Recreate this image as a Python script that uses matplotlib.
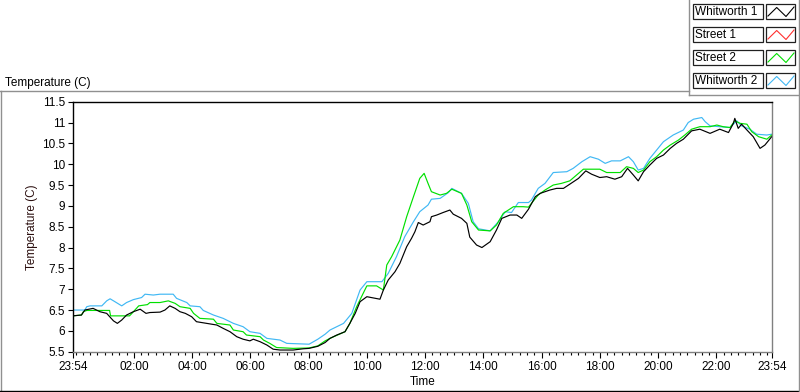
import matplotlib as mpl
import matplotlib.pyplot as plt
from matplotlib.lines import Line2D
from matplotlib.patches import Rectangle

# time in minutes after 23:54 (start of record), temperature in C
w1_t = [0, 18, 25, 42, 56, 70, 84, 92, 101, 111, 125, 139, 151, 159, 180, 190, 200, 211,
        221, 232, 245, 255, 276, 297, 310, 324, 338, 351, 365, 372, 386, 400, 413, 427,
        454, 475, 487, 505, 520, 530, 544, 561, 571, 582, 592, 606, 633, 640, 650, 664,
        674, 688, 698, 705, 712, 722, 736, 739, 750, 763, 777, 784, 801, 812, 818, 832,
        843, 860, 873, 884, 901, 915, 925, 939, 953, 963, 983, 997, 1011, 1024, 1042,
        1057, 1069, 1086, 1100, 1117, 1131, 1143, 1155, 1165, 1176, 1189, 1203, 1217,
        1231, 1244, 1258, 1275, 1292, 1313, 1333, 1351, 1361, 1364, 1371, 1378, 1389,
        1402, 1416, 1426, 1440]
w1_v = [6.36, 6.38, 6.50, 6.54, 6.46, 6.42, 6.24, 6.18, 6.26, 6.38, 6.46, 6.52, 6.42, 6.44,
        6.45, 6.50, 6.60, 6.54, 6.46, 6.42, 6.34, 6.22, 6.18, 6.14, 6.06, 5.98, 5.86, 5.80,
        5.76, 5.80, 5.74, 5.66, 5.56, 5.54, 5.54, 5.57, 5.58, 5.63, 5.72, 5.82, 5.90, 5.98,
        6.18, 6.42, 6.70, 6.82, 6.76, 6.98, 7.22, 7.42, 7.62, 8.02, 8.22, 8.38, 8.60, 8.54,
        8.62, 8.74, 8.78, 8.84, 8.90, 8.80, 8.70, 8.58, 8.25, 8.06, 8.00, 8.14, 8.42, 8.70,
        8.78, 8.78, 8.70, 8.92, 9.22, 9.30, 9.38, 9.42, 9.42, 9.52, 9.66, 9.84, 9.76, 9.68,
        9.70, 9.64, 9.70, 9.90, 9.74, 9.60, 9.82, 9.98, 10.14, 10.22, 10.38, 10.50, 10.60,
        10.80, 10.84, 10.74, 10.84, 10.76, 10.98, 11.10, 10.86, 10.96, 10.82, 10.66, 10.38,
        10.46, 10.66]

# Street 1 has no samples on this chart
s1_t = []
s1_v = []

s2_t = [0, 18, 22, 29, 76, 78, 117, 122, 136, 154, 159, 180, 197, 211, 221, 242, 249, 262,
        290, 297, 324, 331, 351, 358, 386, 393, 406, 420, 454, 487, 505, 520, 530, 561, 571,
        585, 595, 606, 626, 640, 647, 657, 674, 688, 702, 715, 724, 732, 739, 757, 770, 781,
        801, 812, 822, 836, 860, 873, 887, 908, 928, 939, 945, 959, 973, 990, 1007, 1024,
        1042, 1052, 1086, 1100, 1128, 1141, 1155, 1165, 1176, 1189, 1203, 1217, 1231, 1248,
        1261, 1275, 1292, 1313, 1327, 1340, 1354, 1364, 1375, 1389, 1399, 1413, 1430, 1440]
s2_v = [6.36, 6.38, 6.46, 6.49, 6.49, 6.36, 6.36, 6.42, 6.60, 6.63, 6.68, 6.68, 6.72, 6.66,
        6.58, 6.54, 6.42, 6.30, 6.28, 6.18, 6.14, 6.02, 5.98, 5.90, 5.86, 5.78, 5.70, 5.60,
        5.58, 5.59, 5.64, 5.76, 5.82, 5.98, 6.18, 6.58, 6.82, 7.08, 7.08, 6.98, 7.58, 7.78,
        8.18, 8.74, 9.22, 9.66, 9.78, 9.54, 9.34, 9.26, 9.30, 9.40, 9.30, 9.02, 8.62, 8.42,
        8.40, 8.54, 8.82, 8.98, 8.98, 8.97, 9.06, 9.26, 9.38, 9.50, 9.54, 9.60, 9.78, 9.88,
        9.88, 9.80, 9.80, 9.94, 9.90, 9.80, 9.86, 10.06, 10.18, 10.34, 10.46, 10.58, 10.70,
        10.84, 10.90, 10.90, 10.94, 10.90, 10.88, 11.04, 10.98, 10.96, 10.78, 10.66, 10.60,
        10.70]

w2_t = [0, 25, 29, 36, 60, 70, 77, 87, 101, 111, 125, 142, 149, 166, 180, 207, 214, 235,
        242, 262, 269, 290, 310, 331, 351, 365, 386, 400, 427, 441, 487, 505, 520, 530, 558,
        575, 592, 606, 637, 650, 667, 684, 702, 715, 732, 739, 757, 774, 781, 801, 815, 825,
        836, 860, 877, 891, 904, 918, 939, 945, 959, 973, 990, 1018, 1031, 1049, 1066, 1083,
        1097, 1110, 1128, 1145, 1155, 1165, 1176, 1189, 1203, 1217, 1237, 1258, 1268, 1279,
        1296, 1303, 1313, 1333, 1354, 1368, 1378, 1395, 1409, 1430, 1440]
w2_v = [6.50, 6.50, 6.58, 6.60, 6.60, 6.72, 6.77, 6.70, 6.60, 6.68, 6.75, 6.80, 6.88, 6.86,
        6.88, 6.88, 6.78, 6.68, 6.60, 6.58, 6.49, 6.38, 6.30, 6.18, 6.10, 5.98, 5.94, 5.82,
        5.78, 5.70, 5.68, 5.80, 5.92, 6.02, 6.18, 6.42, 6.98, 7.18, 7.18, 7.38, 7.78, 8.26,
        8.62, 8.86, 9.02, 9.16, 9.18, 9.32, 9.42, 9.30, 9.06, 8.62, 8.45, 8.40, 8.62, 8.86,
        8.84, 9.08, 9.08, 9.14, 9.42, 9.54, 9.80, 9.82, 9.90, 10.06, 10.18, 10.12, 10.02,
        10.08, 10.08, 10.18, 10.06, 9.86, 9.90, 10.14, 10.34, 10.54, 10.70, 10.82, 11.00,
        11.08, 11.12, 11.02, 10.92, 10.90, 10.88, 11.04, 10.92, 10.84, 10.72, 10.70, 10.72]

series_names = ['Whitworth 1', 'Street 1', 'Street 2', 'Whitworth 2']
series_colors = ['#000000', '#ff3030', '#00e000', '#40b8f4']

x_ticks = [0, 126, 246, 366, 486, 606, 726, 846, 966, 1086, 1206, 1326, 1440]
x_labels = ['23:54', '02:00', '04:00', '06:00', '08:00', '10:00', '12:00', '14:00',
            '16:00', '18:00', '20:00', '22:00', '23:54']
y_ticks = [5.5, 6, 6.5, 7, 7.5, 8, 8.5, 9, 9.5, 10, 10.5, 11, 11.5]

W, H = 800, 392
mpl.rcParams['font.family'] = 'Liberation Sans'
fs = 8.5


def fx(px):
    return px / W


def fy(py):
    return 1 - py / H


fig = plt.figure(figsize=(W / 100, H / 100), dpi=100)
fig.patch.set_facecolor('white')

ax = fig.add_axes([fx(72.7), fy(351.7), fx(771.7) - fx(72.7), fy(101.7) - fy(351.7)])
ax.plot(w2_t, w2_v, color=series_colors[3], linewidth=0.85)
ax.plot(s2_t, s2_v, color=series_colors[2], linewidth=0.85)
ax.plot(s1_t, s1_v, color=series_colors[1], linewidth=0.85)
ax.plot(w1_t, w1_v, color=series_colors[0], linewidth=0.85)

ax.set_xlim(0, 1440)
ax.set_ylim(5.5, 11.5)
ax.set_xticks(x_ticks)
ax.set_xticklabels(x_labels, fontsize=fs)
ax.set_xticks([m for m in range(6, 1440, 15)], minor=True)
ax.set_yticks(y_ticks)
ax.set_yticklabels(['%g' % v for v in y_ticks], fontsize=fs)
ax.tick_params(axis='x', which='major', direction='out', length=4, width=0.8, pad=3)
ax.tick_params(axis='x', which='minor', direction='out', length=2.2, width=0.8)
ax.tick_params(axis='y', which='major', direction='out', length=3.6, width=0.8, pad=2)
for side in ['left', 'top']:
    ax.spines[side].set_color('black')
for side in ['right', 'bottom']:
    ax.spines[side].set_color('#808080')
for sp in ax.spines.values():
    sp.set_linewidth(1.0)

ax.set_xlabel('Time', fontsize=fs, labelpad=2)
fig.text(fx(32), fy(226.7), 'Temperature (C)', rotation=90, ha='center', va='center',
         fontsize=fs, color='#2a0e0e')
fig.text(fx(5), fy(83), 'Temperature (C)', ha='left', va='center', fontsize=fs)

# panel frame
frame = [([0, 689], [91, 91], '#909090'),
         ([689, 689], [0, 95], '#909090'),
         ([689, 798], [95, 95], '#909090'),
         ([0.5, 0.5], [91, 391], '#909090'),
         ([0, 798.5], [391, 391], 'black'),
         ([798.5, 798.5], [0, 391], '#909090')]
for xs, ys, c in frame:
    fig.add_artist(Line2D([fx(v) for v in xs], [fy(v) for v in ys],
                          transform=fig.transFigure, color=c, linewidth=1.0))

# legend boxes
for i, (name, c) in enumerate(zip(series_names, series_colors)):
    top = 4 + 23 * i
    fig.add_artist(Rectangle((fx(692.7), fy(top + 15)), 70 / W, 15 / H,
                             transform=fig.transFigure, fill=False, ec='#202020', lw=0.9))
    fig.text(fx(695), fy(top + 7.8), name, ha='left', va='center', fontsize=fs)
    fig.add_artist(Rectangle((fx(766), fy(top + 15)), 29 / W, 15 / H,
                             transform=fig.transFigure, fill=False, ec='#202020', lw=0.9))
    zx = [768, 776.7, 786, 794]
    zy = [top + 12, top + 3.5, top + 12.5, top + 3]
    fig.add_artist(Line2D([fx(v) for v in zx], [fy(v) for v in zy],
                          transform=fig.transFigure, color=c, linewidth=0.8))

fig.savefig('out.png', dpi=100)
